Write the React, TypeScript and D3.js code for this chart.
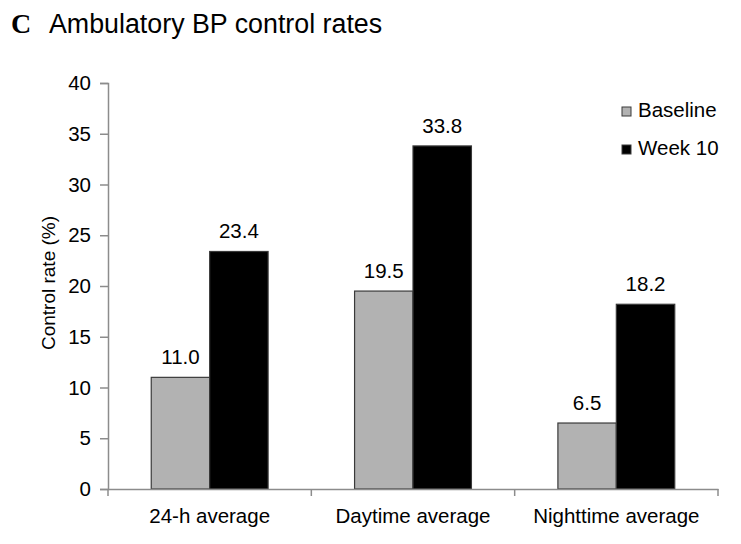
import { useEffect, useRef } from "react";
import * as d3 from "d3";

const categories = ["24-h average", "Daytime average", "Nighttime average"];
const seriesNames = ["Baseline", "Week 10"];
const baselineValues = [11.0, 19.5, 6.5];
const week10Values = [23.4, 33.8, 18.2];
const yTicks = [0, 5, 10, 15, 20, 25, 30, 35, 40];

const colors: Record<string, string> = { Baseline: "#b2b2b2", "Week 10": "#000000" };

const W = 741;
const H = 544;
const FONT = "'Liberation Sans', Arial, sans-serif";
const FS = 20.5;

const App = () => {
  const svgRef = useRef<SVGSVGElement | null>(null);

  useEffect(() => {
    if (!svgRef.current) return;
    const svg = d3.select(svgRef.current);
    svg.selectAll("*").remove();

    const margin = { left: 108, right: 23, top: 83, bottom: 55 };
    const x0 = d3
      .scaleBand<string>()
      .domain(categories)
      .range([margin.left, W - margin.right])
      .paddingInner(0)
      .paddingOuter(0);
    const x1 = d3
      .scaleBand<string>()
      .domain(seriesNames)
      .range([0, x0.bandwidth()])
      .paddingOuter(0.74)
      .paddingInner(0);
    const y = d3.scaleLinear().domain([0, 40]).range([H - margin.bottom, margin.top]);

    const axisColor = "#8c8c8c";

    // title
    svg
      .append("text")
      .attr("x", 11)
      .attr("y", 33)
      .attr("font-family", "'Liberation Serif', 'Times New Roman', serif")
      .attr("font-weight", "bold")
      .attr("font-size", 28)
      .text("C");
    svg
      .append("text")
      .attr("x", 49)
      .attr("y", 33)
      .attr("font-family", FONT)
      .attr("font-size", 26.8)
      .text("Ambulatory BP control rates");

    // y axis
    const yAxis = svg
      .append("g")
      .attr("transform", `translate(${margin.left},0)`)
      .call(d3.axisLeft(y).tickValues(yTicks).tickSize(8).tickPadding(9).tickFormat(d3.format("d")));
    yAxis.select(".domain").attr("stroke", axisColor).attr("stroke-width", 1.5);
    yAxis.selectAll(".tick line").attr("stroke", axisColor).attr("stroke-width", 1.5);
    yAxis
      .selectAll(".tick text")
      .attr("font-family", FONT)
      .attr("font-size", FS)
      .attr("fill", "#000");

    svg
      .append("text")
      .attr("transform", `translate(55,283) rotate(-90)`)
      .attr("text-anchor", "middle")
      .attr("font-family", FONT)
      .attr("font-size", 19)
      .text("Control rate (%)");

    // bars
    const rows = categories.map((c, i) => ({
      category: c,
      values: [
        { name: "Baseline", value: baselineValues[i] },
        { name: "Week 10", value: week10Values[i] },
      ],
    }));

    const groups = svg
      .selectAll("g.cat")
      .data(rows)
      .enter()
      .append("g")
      .attr("class", "cat")
      .attr("transform", (d) => `translate(${x0(d.category)},0)`);

    groups
      .selectAll("rect")
      .data((d) => d.values)
      .enter()
      .append("rect")
      .attr("x", (d) => x1(d.name) || 0)
      .attr("y", (d) => y(d.value))
      .attr("width", x1.bandwidth())
      .attr("height", (d) => y(0) - y(d.value))
      .attr("fill", (d) => colors[d.name])
      .attr("stroke", "#3a3a3a")
      .attr("stroke-width", 1.2);

    groups
      .selectAll("text.val")
      .data((d) => d.values)
      .enter()
      .append("text")
      .attr("class", "val")
      .attr("x", (d) => (x1(d.name) || 0) + x1.bandwidth() / 2)
      .attr("y", (d) => y(d.value) - 13)
      .attr("text-anchor", "middle")
      .attr("font-family", FONT)
      .attr("font-size", FS)
      .text((d) => d.value.toFixed(1));

    // x axis
    const xAxis = svg
      .append("g")
      .attr("transform", `translate(0,${y(0)})`)
      .call(d3.axisBottom(x0).tickSize(0).tickPadding(19));
    xAxis.select(".domain").attr("stroke", axisColor).attr("stroke-width", 1.5);
    xAxis
      .selectAll(".tick text")
      .attr("font-family", FONT)
      .attr("font-size", FS)
      .attr("fill", "#000");
    const bounds = [...categories.map((c) => x0(c) || 0), x0.range()[1]];
    svg
      .append("g")
      .selectAll("line")
      .data(bounds)
      .enter()
      .append("line")
      .attr("x1", (d) => d)
      .attr("x2", (d) => d)
      .attr("y1", y(0))
      .attr("y2", y(0) + 7)
      .attr("stroke", axisColor)
      .attr("stroke-width", 1.5);

    // legend
    const legend = svg
      .append("g")
      .selectAll("g")
      .data(seriesNames)
      .enter()
      .append("g")
      .attr("transform", (_d, i) => `translate(622,${107 + i * 38})`);
    legend
      .append("rect")
      .attr("width", 9)
      .attr("height", 9)
      .attr("fill", (d) => colors[d])
      .attr("stroke", "#3a3a3a")
      .attr("stroke-width", 1);
    legend
      .append("text")
      .attr("x", 16)
      .attr("y", 10)
      .attr("font-family", FONT)
      .attr("font-size", FS)
      .text((d) => d);
  }, []);

  return (
    <svg
      ref={svgRef}
      width={W}
      height={H}
      style={{ position: "absolute", left: 0, top: 0, background: "#fff" }}
    />
  );
};

export default App;
